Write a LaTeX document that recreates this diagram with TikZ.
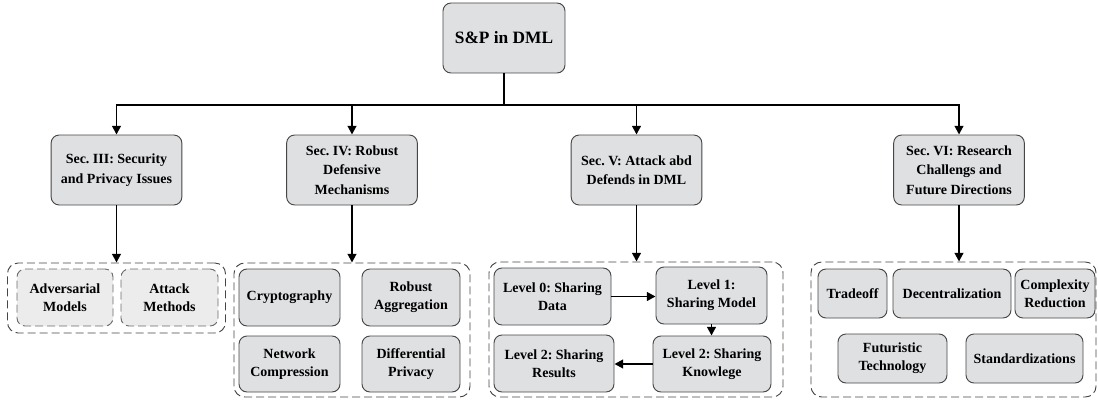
\documentclass[tikz,border=0pt]{standalone}
\usepackage{fontspec}
\setmainfont{Liberation Serif}
\usetikzlibrary{arrows.meta}
\definecolor{boxfill}{RGB}{222,224,226}
\definecolor{softfill}{RGB}{236,236,236}
\definecolor{boxline}{RGB}{70,70,70}
\frenchspacing
\tikzset{
  box/.style={draw=boxline, fill=boxfill, rounded corners=6pt, align=center,
    inner sep=2pt, line width=0.7pt,
    font=\bfseries\fontsize{10.5}{13.5}\selectfont},
  secbox/.style={box, minimum width=98pt, minimum height=52.5pt,
    font=\bfseries\fontsize{10.5}{14.5}\selectfont},
  softbox/.style={box, fill=softfill, draw=boxline!80, dash pattern=on 6pt off 3pt},
  group/.style={draw=boxline, dash pattern=on 6pt off 3pt, rounded corners=8pt,
    line width=0.7pt},
  arr/.style={-{Triangle[length=6.5pt,width=6.5pt]}, line width=1.45pt},
}
\begin{document}
\begin{tikzpicture}[x=0.75pt, y=-0.75pt]
      \useasboundingbox (0,0) rectangle (1098,403);
      % groups behind the boxes
      \node[group, minimum width=163.5pt, minimum height=52.5pt] (g1) at (116.5,298) {};
      \node[group, minimum width=177pt, minimum height=100.5pt] (g2) at (352,330) {};
      \node[group, minimum width=220.5pt, minimum height=101.25pt] (g3) at (636,329.5) {};
      \node[group, minimum width=213.75pt, minimum height=101.25pt] (g4) at (953.5,329.5) {};
      % top and sections
      \node[box, minimum width=91.5pt, minimum height=52.5pt,
        font=\bfseries\fontsize{13}{15}\selectfont] (sp) at (504,38) {S\&P in DML};
      \node[secbox] (s3) at (116.5,170) {Sec. III: Security\\and Privacy Issues};
      \node[secbox] (s4) at (352,170) {Sec. IV: Robust\\Defensive\\Mechanisms};
      \node[secbox] (s5) at (636.5,170) {Sec. V: Attack abd\\Defends in DML};
      \node[secbox] (s6) at (959,170) {Sec. VI: Research\\Challengs and\\Future Directions};
      \coordinate (bus) at (504,105);
      % group 1
      \node[softbox, minimum width=72pt, minimum height=42.75pt] (am) at (65,297.5) {Adversarial\\Models};
      \node[softbox, minimum width=72.75pt, minimum height=42.75pt] (at) at (169.5,297.5) {Attack\\Methods};
      % group 2
      \node[box, minimum width=75.75pt, minimum height=42.75pt] (cr) at (289.5,297.5) {Cryptography};
      \node[box, minimum width=73.5pt, minimum height=42.75pt] (ra) at (411,297.5) {Robust\\Aggregation};
      \node[box, minimum width=75.75pt, minimum height=42pt] (nc) at (289.5,364) {Network\\Compression};
      \node[box, minimum width=73.5pt, minimum height=42pt] (dp) at (411,364) {Differential\\Privacy};
      % group 3
      \node[box, minimum width=87.75pt, minimum height=42.75pt] (l0) at (552.5,296.5) {Level 0: Sharing\\Data};
      \node[box, minimum width=83.25pt, minimum height=42.75pt] (l1) at (711.5,295.5) {Level 1:\\Sharing Model};
      \node[box, minimum width=90pt, minimum height=42.75pt] (l2r) at (554,363.5) {Level 2: Sharing\\Results};
      \node[box, minimum width=88.5pt, minimum height=42pt] (l2k) at (712,364) {Level 2: Sharing\\Knowlege};
      % group 4
      \node[box, minimum width=51.75pt, minimum height=36.75pt] (to) at (852.5,293.5) {Tradeoff};
      \node[box, minimum width=88.5pt, minimum height=36.75pt] (de) at (952,293.5) {Decentralization};
      \node[box, minimum width=60pt, minimum height=36.75pt] (cx) at (1055,293.5) {Complexity\\Reduction};
      \node[box, minimum width=81.75pt, minimum height=36.75pt] (ft) at (892.5,358.5) {Futuristic\\Technology};
      \node[box, minimum width=87.75pt, minimum height=36.75pt] (st) at (1024.5,358.5) {Standardizations};
      % connectors
      \draw[arr] (sp.south) -- (bus) -| (s3.north);
      \draw[arr] (sp.south) -- (bus) -| (s4.north);
      \draw[arr] (sp.south) -- (bus) -| (s5.north);
      \draw[arr] (sp.south) -- (bus) -| (s6.north);
      \draw[arr] (s3.south) -- (s3.south |- g1.north);
      \draw[arr] (s4.south) -- (s4.south |- g2.north);
      \draw[arr] (s5.south) -- (s5.south |- g3.north);
      \draw[arr] (s6.south) -- (s6.south |- g4.north);
      \draw[arr] (l0.east) -- (l0.east -| l1.west);
      \draw[arr] (l1.south) -- (l1.south |- l2k.north);
      \draw[arr] (l2k.west) -- (l2k.west -| l2r.east);
    \end{tikzpicture}
\end{document}
